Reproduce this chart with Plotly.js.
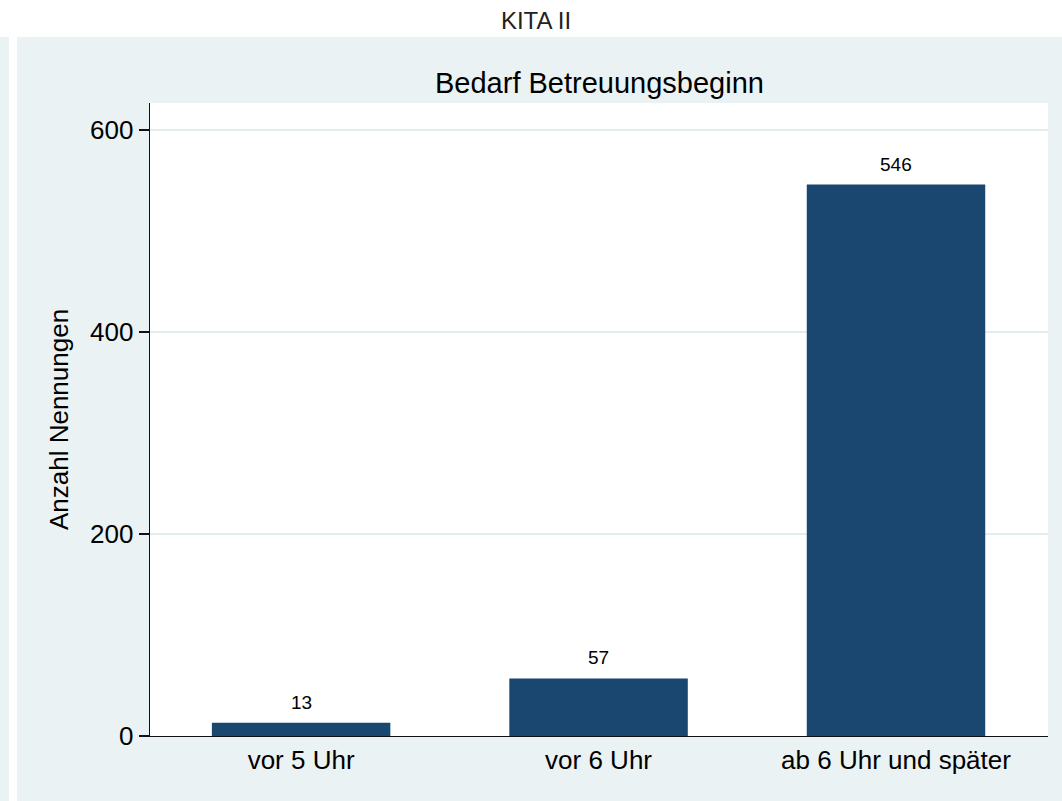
<!DOCTYPE html>
<html>
<head>
<meta charset="utf-8">
<script src="https://cdn.plot.ly/plotly-3.0.1.min.js"></script>
<style>html,body{margin:0;padding:0;background:#fff;}#chart{width:1062px;height:801px;}</style>
</head>
<body>
<div id="chart"></div>
<script>
const categories = ["vor 5 Uhr", "vor 6 Uhr", "ab 6 Uhr und später"];
const counts = [13, 57, 546];
const yTicks = [0, 200, 400, 600];

const FONT = "Liberation Sans, Arial, Helvetica, sans-serif";
const PANEL = "#eaf2f3";
const BAR = "#1a476f";

const trace = {
  type: "bar",
  x: categories,
  y: counts,
  width: 0.6,
  marker: {color: BAR, line: {width: 0}},
  hoverinfo: "x+y"
};

const valueLabels = categories.map((c, i) => ({
  x: c, y: counts[i], xref: "x", yref: "y",
  text: String(counts[i]), showarrow: false,
  yanchor: "bottom", yshift: 8,
  font: {family: FONT, size: 19, color: "#000"}
}));

const layout = {
  width: 1062, height: 801,
  margin: {l: 150, r: 14, t: 103, b: 65, pad: 0},
  paper_bgcolor: "#ffffff",
  plot_bgcolor: "#ffffff",
  showlegend: false,
  title: {
    text: "KITA II",
    font: {family: FONT, size: 24, color: "#222"},
    x: 536 / 1062, xref: "container", xanchor: "center",
    y: 1 - 21 / 801, yref: "container", yanchor: "middle"
  },
  xaxis: {
    type: "category",
    range: [-0.508, 2.511],
    showgrid: false,
    zeroline: false,
    showline: true, linecolor: "#111", linewidth: 1.3,
    ticks: "",
    tickfont: {family: FONT, size: 26, color: "#000"},
    automargin: false
  },
  yaxis: {
    range: [0, 626.7],
    tickvals: yTicks,
    ticktext: yTicks.map(String),
    showgrid: true, gridcolor: "#e3ecee", gridwidth: 1.5,
    zeroline: false,
    showline: true, linecolor: "#111", linewidth: 1.3,
    ticks: "outside", ticklen: 10, tickwidth: 1.3, tickcolor: "#111",
    tickfont: {family: FONT, size: 26, color: "#000"},
    title: {text: "Anzahl Nennungen", font: {family: FONT, size: 26, color: "#000"}, standoff: 14},
    automargin: false
  },
  shapes: [
    {type: "rect", xref: "paper", yref: "paper", layer: "below",
     x0: (0 - 150) / 898, x1: (9 - 150) / 898, y0: (736 - 801) / 633, y1: (736 - 37) / 633,
     fillcolor: PANEL, line: {width: 0}},
    {type: "rect", xref: "paper", yref: "paper", layer: "below",
     x0: (17 - 150) / 898, x1: (1062 - 150) / 898, y0: (736 - 801) / 633, y1: (736 - 37) / 633,
     fillcolor: PANEL, line: {width: 0}},
    {type: "rect", xref: "paper", yref: "paper", layer: "below",
     x0: 0, x1: 1, y0: 0, y1: 1,
     fillcolor: "#ffffff", line: {width: 0}}
  ],
  annotations: [
    {text: "Bedarf Betreuungsbeginn", xref: "paper", yref: "paper",
     x: 0.5, y: (736 - 83) / 633, xanchor: "center", yanchor: "middle",
     showarrow: false, font: {family: FONT, size: 29, color: "#000"}}
  ].concat(valueLabels)
};

Plotly.newPlot("chart", [trace], layout, {displayModeBar: false, staticPlot: true});
</script>
</body>
</html>
